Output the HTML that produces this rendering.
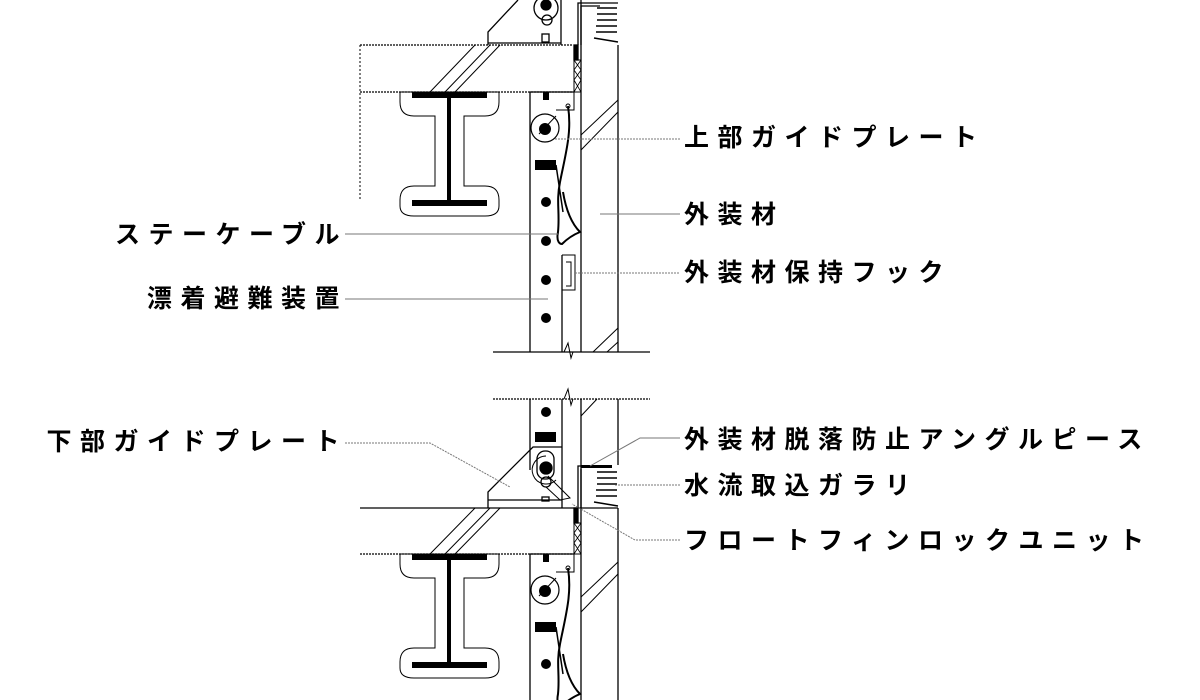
<!DOCTYPE html>
<html><head><meta charset="utf-8"><style>
html,body{margin:0;padding:0;background:#fff;width:1200px;height:700px;overflow:hidden}
text{font-family:"Liberation Sans","Noto Sans CJK JP",sans-serif;font-size:25px;font-weight:bold;fill:#000;letter-spacing:8.5px}
</style></head><body>
<svg width="1200" height="700" viewBox="0 0 1200 700" xmlns="http://www.w3.org/2000/svg">
<defs>
<g id="beam">
  <path d="M400,0 H499 V10 Q499,24 485,24 H464 V94 H485 Q499,94 499,108 V114 Q499,124 485,124 H414 Q400,124 400,114 V108 Q400,94 414,94 H435 V24 H414 Q400,24 400,10 Z" fill="none" stroke="#000" stroke-width="1"/>
  <rect x="412" y="0" width="75" height="6" fill="#000"/>
  <rect x="412" y="108" width="75" height="6" fill="#000"/>
  <rect x="447" y="6" width="4" height="102" fill="#000"/>
</g>
<g id="guide">
  <rect x="543" y="0" width="6" height="8" fill="#000"/>
  <path d="M574,0 V18 H556" fill="none" stroke="#000" stroke-width="1"/>
  <circle cx="545" cy="36" r="14" fill="none" stroke="#000" stroke-width="1.2"/>
  <circle cx="545" cy="37" r="6" fill="#000"/>
  <line x1="539" y1="42" x2="556" y2="24" stroke="#000"/>
  <rect x="535" y="68" width="21" height="10" fill="#000"/>
  <line x1="556" y1="73" x2="563" y2="120" stroke="#000" stroke-width="1.5"/>
  <path d="M568,14 C572,40 566,60 560,90 C556,110 560,120 558,140 C556,150 560,152 562,152 C568,146 575,142 580,140 C572,132 566,118 563,100" fill="none" stroke="#000" stroke-width="2"/>
  <circle cx="568" cy="14" r="2" fill="none" stroke="#000"/>
</g>
</defs>
<g stroke="#000" stroke-width="1.3" fill="none">
<line x1="360" y1="45" x2="573" y2="45" stroke-dasharray="2,1"/>
<line x1="360" y1="92" x2="573" y2="92" stroke-dasharray="2,1"/>
<line x1="360" y1="45" x2="360" y2="200" stroke-dasharray="2,2" stroke-width="1"/>
<line x1="430" y1="92" x2="475" y2="45" stroke-width="1"/>
<line x1="445" y1="92" x2="490" y2="45" stroke-width="1"/>
<line x1="455" y1="92" x2="500" y2="45" stroke-width="1"/>
<path d="M488,45 V32 L518,0 M561,0 V45 M488,43 H561"/>
<circle cx="546" cy="8" r="12"/>
<circle cx="546" cy="5" r="5" fill="#000"/>
<circle cx="547" cy="20" r="5"/>
<rect x="542" y="34" width="7" height="8"/>
<path d="M578,45 V3 H618 M581,45 V6 H600"/>
<g stroke-width="1.5">
<path d="M597,8 L617,8 M597,14 L617,14 M597,20 L617,20 M596,26 L617,26 M596,32 L617,32 M594,38 L618,42"/>
</g>
<rect x="574" y="45" width="4" height="15" fill="#000"/>
<rect x="574" y="60" width="7" height="32" stroke-width="1"/>
<path d="M574,60 L581,70 M581,60 L574,70 M574,70 L581,80 M581,70 L574,80 M574,80 L581,92 M581,80 L574,92" stroke-width="0.8"/>
<line x1="581" y1="0" x2="581" y2="352"/>
<line x1="618" y1="45" x2="618" y2="352"/>
<line x1="530" y1="92" x2="530" y2="352"/>
<line x1="562" y1="255" x2="562" y2="352"/>
<line x1="530" y1="92" x2="574" y2="92"/>
<line x1="581" y1="150" x2="618" y2="112" stroke-width="1"/>
<line x1="581" y1="135" x2="618" y2="100" stroke-width="1"/>
<line x1="593" y1="352" x2="618" y2="328" stroke-width="1"/>
<line x1="607" y1="352" x2="618" y2="342" stroke-width="1"/>
<path d="M562,255 H575 V290 H562 M566,262 H571 V286 H566" stroke-width="1"/>
<line x1="493" y1="352" x2="650" y2="352"/>
<path d="M564,352 L568,343 L571,358 L573,352" stroke-width="1"/>
<line x1="493" y1="399" x2="650" y2="399" stroke-dasharray="2,1"/>
<path d="M564,399 L568,389 L571,405 L573,399" stroke-width="1"/>
<line x1="530" y1="399" x2="530" y2="470"/>
<line x1="562" y1="399" x2="562" y2="500"/>
<line x1="581" y1="399" x2="581" y2="700"/>
<line x1="618" y1="399" x2="618" y2="465"/>
<line x1="618" y1="508" x2="618" y2="700"/>
<line x1="581" y1="416" x2="597" y2="399" stroke-width="1"/>
<line x1="360" y1="508" x2="573" y2="508"/>
<line x1="360" y1="554" x2="573" y2="554" stroke-dasharray="2,1"/>
<line x1="430" y1="554" x2="475" y2="508" stroke-width="1"/>
<line x1="445" y1="554" x2="490" y2="508" stroke-width="1"/>
<line x1="455" y1="554" x2="500" y2="508" stroke-width="1"/>
<path d="M488,508 V492 L533,447 H562 M488,500 H562 V508"/>
<rect x="537" y="451" width="17" height="28" rx="8"/>
<path d="M546,456 A14,14 0 1 0 556,480" stroke-width="1"/>
<circle cx="546" cy="468" r="6" fill="#000"/>
<circle cx="546" cy="482" r="5"/>
<path d="M546,487 L560,500 L570,498 L548,476" stroke-width="1"/>
<rect x="542" y="497" width="7" height="4"/>
<path d="M578,508 V466 H612 M581,508 V469"/>
<rect x="581" y="465" width="31" height="3" fill="#000" stroke="none"/>
<g stroke-width="1.5">
<path d="M597,472 L617,472 M597,478 L617,478 M597,484 L617,484 M596,490 L617,490 M596,496 L617,496 M594,502 L618,506"/>
</g>
<line x1="618" y1="508" x2="573" y2="508"/>
<rect x="574" y="508" width="4" height="15" fill="#000"/>
<rect x="574" y="523" width="7" height="31" stroke-width="1"/>
<path d="M574,523 L581,533 M581,523 L574,533 M574,533 L581,543 M581,533 L574,543 M574,543 L581,554 M581,543 L574,554" stroke-width="0.8"/>
<line x1="530" y1="554" x2="530" y2="700"/>
<line x1="530" y1="554" x2="574" y2="554"/>
<line x1="581" y1="612" x2="618" y2="574" stroke-width="1"/>
<line x1="581" y1="597" x2="618" y2="562" stroke-width="1"/>
</g>
<rect x="535" y="432" width="21" height="10" fill="#000"/>
<circle cx="546" cy="412" r="5" fill="#000"/>
<use href="#beam" y="92"/>
<use href="#beam" y="554"/>
<use href="#guide" y="92"/>
<use href="#guide" y="554"/>
<g fill="#000">
<circle cx="546" cy="202" r="5"/><circle cx="546" cy="241" r="5"/><circle cx="546" cy="280" r="5"/><circle cx="546" cy="318" r="5"/>
<circle cx="546" cy="664" r="5"/>
</g>
<g stroke="#777" stroke-width="1" fill="none">
<line x1="555" y1="139" x2="680" y2="139" stroke-dasharray="2,1"/>
<line x1="600" y1="214" x2="680" y2="214"/>
<line x1="575" y1="273" x2="680" y2="273" stroke-dasharray="2,1"/>
<line x1="345" y1="234" x2="558" y2="234"/>
<line x1="345" y1="299" x2="548" y2="299"/>
<path d="M345,443 H430 L510,487" stroke-dasharray="2,1"/>
<path d="M680,438 H640 L590,466"/>
<line x1="615" y1="485" x2="680" y2="485" stroke-dasharray="2,1"/>
<path d="M680,540 H635 L572,504" stroke-dasharray="2,1"/>
</g>
<text x="684" y="146">上部ガイドプレート</text>
<text x="684" y="223">外装材</text>
<text x="684" y="281">外装材保持フック</text>
<text x="348" y="243" text-anchor="end">ステーケーブル</text>
<text x="348" y="307" text-anchor="end">漂着避難装置</text>
<text x="348" y="450" text-anchor="end">下部ガイドプレート</text>
<text x="684" y="448">外装材脱落防止アングルピース</text>
<text x="684" y="494">水流取込ガラリ</text>
<text x="684" y="549">フロートフィンロックユニット</text>
</svg>
</body></html>
